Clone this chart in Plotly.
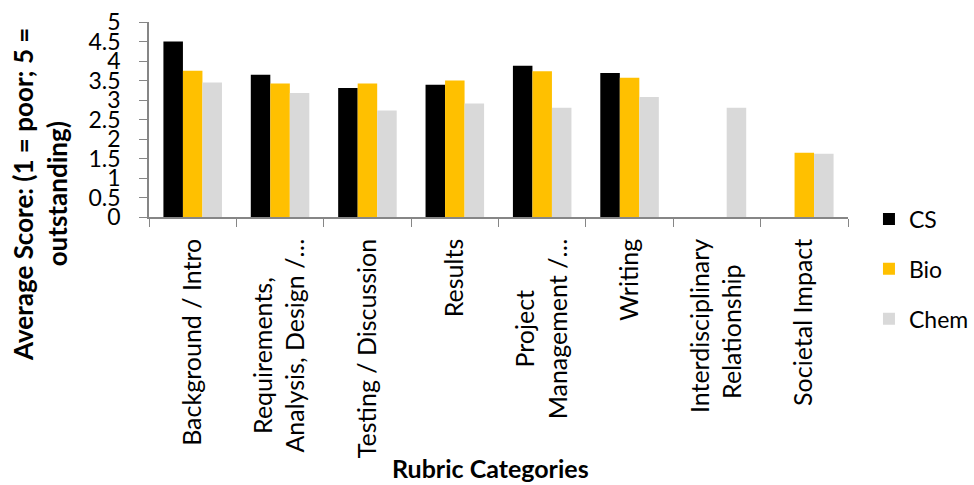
import plotly.graph_objects as go

categories = [
    "Background / Intro",
    "Requirements, Analysis, Design /…",
    "Testing / Discussion",
    "Results",
    "Project Management /…",
    "Writing",
    "Interdisciplinary Relationship",
    "Societal Impact",
]
tick_lines = [
    ["Background / Intro"],
    ["Requirements,", "Analysis, Design /…"],
    ["Testing / Discussion"],
    ["Results"],
    ["Project", "Management /…"],
    ["Writing"],
    ["Interdisciplinary", "Relationship"],
    ["Societal Impact"],
]
cs = [4.5, 3.65, 3.31, 3.39, 3.88, 3.69, None, None]
bio = [3.75, 3.42, 3.42, 3.50, 3.74, 3.57, None, 1.65]
chem = [3.45, 3.18, 2.73, 2.91, 2.80, 3.08, 2.80, 1.62]

series = [("CS", cs, "#000000"), ("Bio", bio, "#FFC000"), ("Chem", chem, "#D9D9D9")]

# trailing no-break spaces so that the shorter line of a wrapped, rotated
# label sits centred on the longer one (as in the reference)
line_pads = [[0], [6, 0], [0], [0], [8, 0], [0], [0, 4], [0]]
tick_text = [
    "<br>".join(l + "\u00a0" * p for l, p in zip(lines, pads))
    for lines, pads in zip(tick_lines, line_pads)
]

FONT = "Lato"
fig = go.Figure()
for name, vals, col in series:
    fig.add_trace(go.Bar(
        x=categories, y=vals, name=name, legendgroup=name,
        marker=dict(color=col, line=dict(width=0)),
    ))

fig.update_layout(
    width=974, height=485,
    margin=dict(l=149, r=126, t=22, b=268, autoexpand=False),
    paper_bgcolor="white", plot_bgcolor="white",
    barmode="group", bargap=0.33, bargroupgap=0,
    font=dict(family=FONT, size=22, color="#000000"),
    showlegend=True,
    legend=dict(x=1.03, xanchor="left", y=0.1, yanchor="top",
                font=dict(family=FONT, size=23), tracegroupgap=17,
                traceorder="grouped", itemwidth=30),
    xaxis=dict(
        showline=True, linecolor="#868686", linewidth=1.5,
        ticks="outside", tickson="boundaries", ticklen=8, tickcolor="#868686",
        tickangle=-90, tickfont=dict(family=FONT, size=25),
        tickmode="array", tickvals=categories, ticktext=tick_text,
        ticklabelstandoff=10,
        showgrid=False, automargin=False,
    ),
    yaxis=dict(
        range=[0, 5], dtick=0.5, showline=True, linecolor="#868686", linewidth=1.5,
        ticks="outside", ticklen=8, tickcolor="#868686",
        tickfont=dict(family=FONT, size=23), showgrid=False, zeroline=False,
        ticklabelstandoff=14, automargin=False,
    ),
    annotations=[
        dict(text="<b>Average Score: (1 = poor; 5 =<br>outstanding)</b>",
             xref="paper", yref="paper", x=-0.156, y=0.118,
             xanchor="center", yanchor="middle", textangle=-90, showarrow=False,
             font=dict(family=FONT, size=26), align="center"),
        dict(text="<b>Rubric Categories</b>",
             xref="paper", yref="paper", x=0.489, y=-1.287,
             xanchor="center", yanchor="middle", showarrow=False,
             font=dict(family=FONT, size=25)),
    ],
)

fig.write_html("out.html")
